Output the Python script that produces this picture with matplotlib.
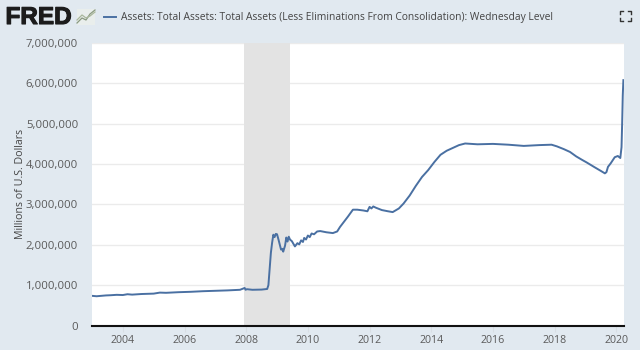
import matplotlib
matplotlib.use('Agg')
import matplotlib.pyplot as plt
import matplotlib.patheffects as pe
from matplotlib.ticker import FuncFormatter

plt.rcParams['font.family'] = ['Open Sans', 'DejaVu Sans']

# year fraction, millions of dollars
years = [2003.0, 2003.15, 2003.3, 2003.45, 2003.6, 2003.8, 2004.0, 2004.15, 2004.3, 2004.6, 2005.0, 2005.2, 2005.4,
         2005.8, 2006.2, 2006.6, 2007.0, 2007.4, 2007.8, 2007.95, 2007.98, 2008.02, 2008.2, 2008.5, 2008.68,
         2008.72, 2008.76, 2008.8, 2008.84, 2008.88, 2008.92, 2008.96, 2009.0, 2009.05, 2009.13, 2009.17,
         2009.2, 2009.26, 2009.3, 2009.34, 2009.38, 2009.42, 2009.48, 2009.58, 2009.66, 2009.72, 2009.78,
         2009.84, 2009.88, 2009.94, 2010.0, 2010.06, 2010.12, 2010.2, 2010.3, 2010.4, 2010.6, 2010.81, 2010.95,
         2011.04, 2011.2, 2011.3, 2011.46, 2011.6, 2011.8, 2011.93, 2012.0, 2012.06, 2012.12, 2012.2, 2012.4,
         2012.6, 2012.75, 2012.95, 2013.1, 2013.3, 2013.5, 2013.7, 2013.9, 2014.1, 2014.3, 2014.5, 2014.7,
         2014.9, 2015.1, 2015.5, 2016.0, 2016.5, 2017.0, 2017.5, 2017.9, 2018.07, 2018.3, 2018.5, 2018.7,
         2018.9, 2019.04, 2019.3, 2019.5, 2019.63, 2019.68, 2019.73, 2019.82, 2019.95, 2020.05, 2020.13,
         2020.17, 2020.19, 2020.21, 2020.23]
assets = [735, 725, 735, 745, 750, 760, 755, 775, 765, 780, 790, 815, 810,
          825, 835, 850, 860, 870, 885, 930, 885, 900, 885, 890, 905,
          1000, 1400, 1800, 2050, 2250, 2190, 2270, 2260, 2120, 1880, 1900,
          1830, 1980, 2180, 2080, 2200, 2130, 2090, 1960, 2040, 2010, 2110,
          2070, 2170, 2130, 2230, 2190, 2280, 2260, 2330, 2340, 2310, 2290, 2330,
          2440, 2600, 2700, 2870, 2870, 2850, 2830, 2940, 2900, 2950, 2920, 2860,
          2830, 2810, 2900, 3020, 3220, 3460, 3680, 3850, 4050, 4230, 4330, 4400,
          4470, 4510, 4490, 4500, 4480, 4450, 4470, 4480, 4440, 4370, 4300, 4190,
          4100, 4040, 3920, 3830, 3770, 3800, 3930, 4020, 4170, 4200, 4150,
          4420, 5000, 5700, 6080]
recession = [2007.92, 2009.42]
year_ticks = [2004, 2006, 2008, 2010, 2012, 2014, 2016, 2018, 2020]
value_ticks = [0, 1000000, 2000000, 3000000, 4000000, 5000000, 6000000, 7000000]
title = 'Assets: Total Assets: Total Assets (Less Eliminations From Consolidation): Wednesday Level'

bg = '#e1e9f0'
line_col = '#4a70a2'
text_col = '#5a5a5a'

fig = plt.figure(figsize=(6.4, 3.5), dpi=100, facecolor=bg)
ax = fig.add_axes([92 / 640, 1 - 325.5 / 350, (624 - 92) / 640, (325.5 - 43) / 350])

ax.axvspan(recession[0], recession[1], color='#e3e3e3', lw=0, zorder=1)
ax.plot(years, [v * 1000 for v in assets], color=line_col, lw=1.4, zorder=3)

ax.set_xlim(2003.0, 2020.25)
ax.set_ylim(0, 7000000)
ax.set_xticks(year_ticks)
ax.set_yticks(value_ticks)
ax.yaxis.set_major_formatter(FuncFormatter(lambda v, p: f'{int(v):,}'))
ax.grid(axis='y', color='#ebebeb', lw=1, zorder=0)
ax.set_axisbelow(True)

for s in ['top', 'right', 'left']:
    ax.spines[s].set_visible(False)
ax.spines['bottom'].set_color('#111111')
ax.spines['bottom'].set_linewidth(1.5)
ax.tick_params(axis='y', length=0, labelsize=8.2, labelcolor=text_col, pad=10)
ax.tick_params(axis='x', length=4, width=0.8, color='#d8dee4', direction='out', labelsize=7.7, labelcolor=text_col, pad=3)
ax.set_ylabel('Millions of U.S. Dollars', fontsize=7.7, color='#444444', labelpad=0)

# header
fred = fig.text(5.5 / 640, 1 - 17.5 / 350, 'FRED', fontsize=17.5, fontweight='bold', color='#1c1c1c', va='center',
                family=['Liberation Sans', 'DejaVu Sans'])
fred.set_path_effects([pe.withStroke(linewidth=0.8, foreground='#1c1c1c')])
fig.text(121 / 640, 1 - 17.5 / 350, title, fontsize=7.4, color='#444444', va='center')

overlay = fig.add_axes([0, 0, 1, 1], facecolor='none')
overlay.set_xlim(0, 640)
overlay.set_ylim(350, 0)
overlay.axis('off')
# legend key, logo icon and fullscreen corners
overlay.plot([104, 116], [16.5, 16.5], color=line_col, lw=1.4)
overlay.fill([77, 95, 95, 77], [9, 9, 25, 25], color='#e9eeec', lw=0)
overlay.plot([77, 82, 86, 90, 95], [23, 18, 20, 14, 10], color='#8a9a80', lw=0.9)
overlay.plot([77, 82, 86, 90, 95], [20, 15, 18, 16, 12], color='#a9b79c', lw=0.9)
for x, y, dx, dy in [(620, 11, 1, 1), (631, 11, -1, 1), (620, 21, 1, -1), (631, 21, -1, -1)]:
    overlay.plot([x + 3 * dx, x, x], [y, y, y + 3 * dy], color='#333333', lw=1)

fig.savefig('out.png', dpi=100, facecolor=bg)
